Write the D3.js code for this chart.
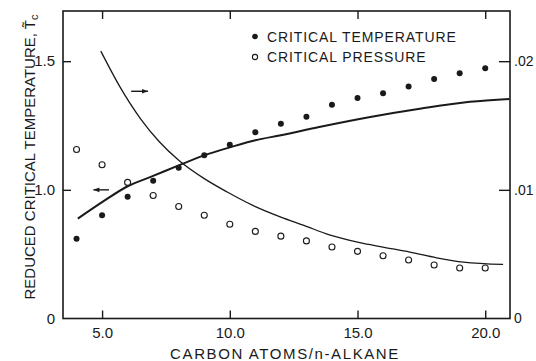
<!DOCTYPE html>
<html>
<head>
<meta charset="utf-8">
<script src="https://cdn.jsdelivr.net/npm/d3@7/dist/d3.min.js"></script>
<style>
  html, body { margin: 0; padding: 0; background: #fff; }
  svg { display: block; }
  text { font-family: "Liberation Sans", Arial, sans-serif; fill: #1a1a1a; }
</style>
</head>
<body>
<svg id="chart" width="536" height="361"></svg>
<script>
// ---- data ----
const carbonAtoms = [4, 5, 6, 7, 8, 9, 10, 11, 12, 13, 14, 15, 16, 17, 18, 19, 20];
const criticalTemperature = [0.810, 0.901, 0.973, 1.035, 1.086, 1.134, 1.175, 1.224, 1.257, 1.284, 1.331, 1.357, 1.375, 1.402, 1.431, 1.453, 1.473];
const criticalPressure = [0.01314, 0.01195, 0.01058, 0.00956, 0.00870, 0.00802, 0.00732, 0.00677, 0.00640, 0.00603, 0.00556, 0.00522, 0.00488, 0.00455, 0.00416, 0.00392, 0.00392];

const tempCurveN = [4.05, 5.0, 6.0, 7.0, 8.0, 9.0, 10.0, 11.0, 12.0, 13.5, 15.5, 17.5, 19.4, 20.95];
const tempCurveT = [0.888, 0.952, 1.014, 1.054, 1.095, 1.134, 1.165, 1.193, 1.212, 1.244, 1.283, 1.316, 1.342, 1.353];

const pressCurveN = [4.95, 5.7, 6.5, 7.25, 8.0, 9.0, 9.9, 10.9, 12.0, 12.9, 13.9, 15.0, 16.0, 17.05, 18.1, 19.15, 20.7];
const pressCurveP = [0.02078, 0.0180, 0.01554, 0.01372, 0.01230, 0.01087, 0.00983, 0.00879, 0.00788, 0.00724, 0.0065, 0.00594, 0.00555, 0.00516, 0.00472, 0.00438, 0.00420];

const xTickValues = [5, 10, 15, 20];
const xTickLabels = ["5.0", "10.0", "15.0", "20.0"];
const leftTickValues = [0.5, 1.0, 1.5];      // broken axis: bottom labelled 0
const leftTickLabels = ["0", "1.0", "1.5"];
const rightTickValues = [0, 0.01, 0.02];
const rightTickLabels = ["0", ".01", ".02"];

const legendLabels = ["CRITICAL TEMPERATURE", "CRITICAL PRESSURE"];
const xTitle = "CARBON ATOMS/n-ALKANE";
const yTitle = "REDUCED CRITICAL TEMPERATURE, ";

// arrow annotations (data coordinates)
const leftArrowN = [5.27, 4.66], leftArrowT = 1.0;
const rightArrowN = [6.14, 6.80], rightArrowT = 1.383;

// ---- layout ----
const L = 63, R = 510, T = 11, B = 318.5;
const ink = "#1a1a1a";

const svg = d3.select("#chart");
const x = d3.scaleLinear().domain([3.47, 20.97]).range([L, R]);
const yL = d3.scaleLinear().domain([0.5, 1.695]).range([B, T]);
const yR = d3.scaleLinear().domain([0, 0.0239]).range([B, T]);

// axes
const gx = svg.append("g").attr("transform", `translate(0,${B})`)
  .call(d3.axisBottom(x).tickValues(xTickValues).tickFormat((d, i) => xTickLabels[i]).tickSize(-8).tickPadding(9));
const gxt = svg.append("g").attr("transform", `translate(0,${T})`)
  .call(d3.axisTop(x).tickValues(xTickValues).tickFormat("").tickSize(-8));
const gl = svg.append("g").attr("transform", `translate(${L},0)`)
  .call(d3.axisLeft(yL).tickValues(leftTickValues).tickFormat((d, i) => leftTickLabels[i]).tickSize(-8).tickPadding(8));
const gr = svg.append("g").attr("transform", `translate(${R},0)`)
  .call(d3.axisRight(yR).tickValues(rightTickValues).tickFormat((d, i) => rightTickLabels[i]).tickSize(-11).tickPadding(4));

[gx, gxt, gl, gr].forEach(g => {
  g.select(".domain").remove();
  g.selectAll(".tick line").attr("stroke", ink).attr("stroke-width", 1.4);
  g.selectAll(".tick text").attr("fill", ink);
});
gx.selectAll(".tick text").style("font-size", "15px");
gl.selectAll(".tick text").style("font-size", "15px");
gr.selectAll(".tick text").style("font-size", "14px");
// bottom-most tick marks coincide with frame; drop those
gl.selectAll(".tick").filter(d => d === 0.5).select("line").remove();
gr.selectAll(".tick").filter(d => d === 0).select("line").remove();

// frame
svg.append("rect").attr("x", L).attr("y", T).attr("width", R - L).attr("height", B - T)
  .attr("fill", "none").attr("stroke", ink).attr("stroke-width", 1.6);

// curves
const tempLine = d3.line().x(d => x(d[0])).y(d => yL(d[1])).curve(d3.curveMonotoneX);
svg.append("path").datum(tempCurveN.map((n, i) => [n, tempCurveT[i]]))
  .attr("d", tempLine).attr("fill", "none").attr("stroke", ink).attr("stroke-width", 2);

const pressLine = d3.line().x(d => x(d[0])).y(d => yR(d[1])).curve(d3.curveMonotoneX);
svg.append("path").datum(pressCurveN.map((n, i) => [n, pressCurveP[i]]))
  .attr("d", pressLine).attr("fill", "none").attr("stroke", ink).attr("stroke-width", 1.3);

// points
svg.append("g").selectAll("circle").data(carbonAtoms).join("circle")
  .attr("cx", d => x(d)).attr("cy", (d, i) => yL(criticalTemperature[i])).attr("r", 3)
  .attr("fill", ink);
svg.append("g").selectAll("circle").data(carbonAtoms).join("circle")
  .attr("cx", d => x(d)).attr("cy", (d, i) => yR(criticalPressure[i])).attr("r", 3)
  .attr("fill", "#fff").attr("stroke", ink).attr("stroke-width", 1.1);

// arrows
function arrow(x1, y1, x2, y2) {
  svg.append("line").attr("x1", x1).attr("y1", y1).attr("x2", x2).attr("y2", y2)
    .attr("stroke", ink).attr("stroke-width", 1.4);
  const dir = Math.sign(x2 - x1);
  svg.append("path")
    .attr("d", `M${x2},${y2} L${x2 - dir * 6},${y2 - 2.3} L${x2 - dir * 6},${y2 + 2.3} Z`)
    .attr("fill", ink);
}
arrow(x(leftArrowN[0]), yL(leftArrowT), x(leftArrowN[1]), yL(leftArrowT));
arrow(x(rightArrowN[0]), yL(rightArrowT), x(rightArrowN[1]), yL(rightArrowT));

// legend
const leg = svg.append("g");
leg.append("circle").attr("cx", 255).attr("cy", 36.5).attr("r", 2.8).attr("fill", ink);
leg.append("circle").attr("cx", 255).attr("cy", 57).attr("r", 2.6).attr("fill", "#fff")
  .attr("stroke", ink).attr("stroke-width", 1.1);
leg.append("text").attr("x", 267).attr("y", 41.8).text(legendLabels[0])
  .style("font-size", "14px").style("letter-spacing", "0.9px");
leg.append("text").attr("x", 267).attr("y", 62.2).text(legendLabels[1])
  .style("font-size", "14px").style("letter-spacing", "0.9px");

// axis titles
svg.append("text").attr("x", 285).attr("y", 359).attr("text-anchor", "middle")
  .style("font-size", "15px").style("letter-spacing", "1.6px").text(xTitle);

const yt = svg.append("text").attr("transform", "translate(35,157) rotate(-90)")
  .attr("text-anchor", "middle").style("font-size", "15px");
yt.append("tspan").text(yTitle);
yt.append("tspan").text("T\u0303");
yt.append("tspan").attr("dy", 3).style("font-size", "11px").text("c");
</script>
</body>
</html>
